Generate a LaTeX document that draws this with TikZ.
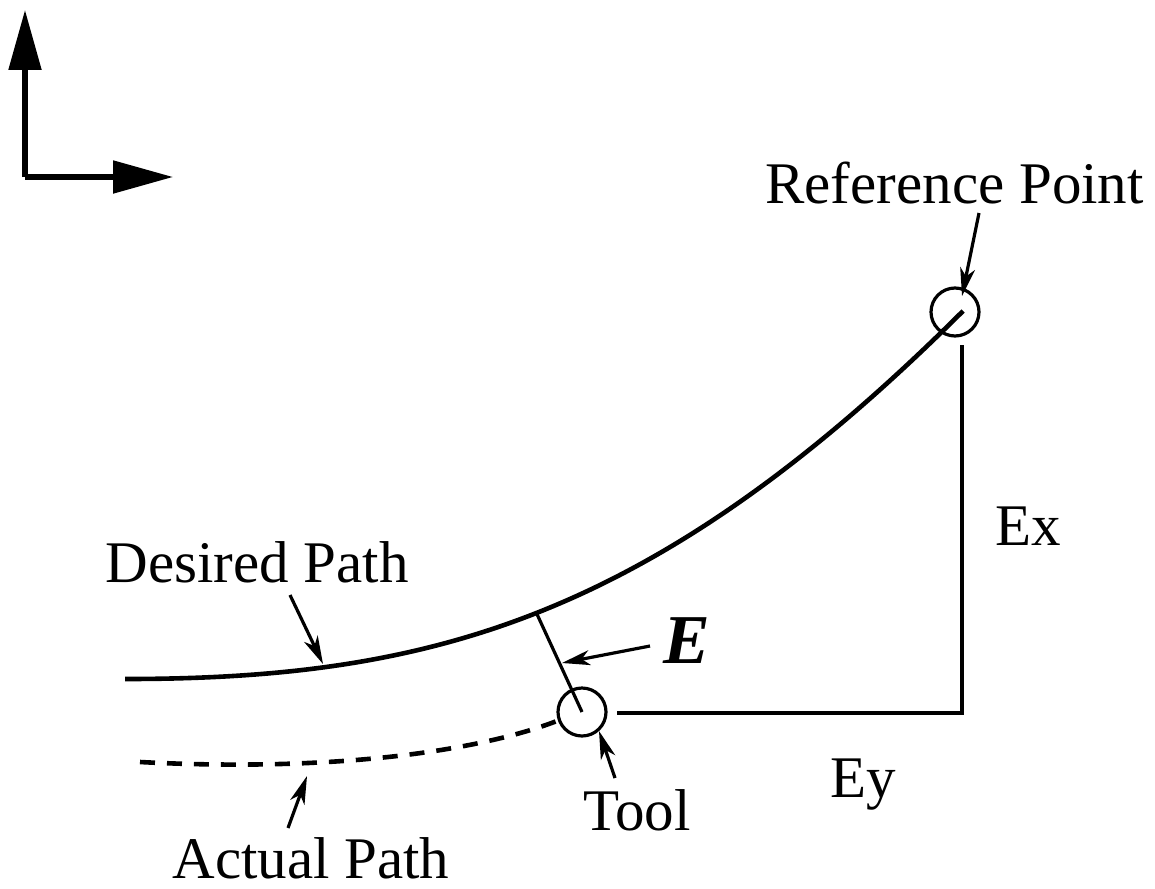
\documentclass[tikz,border=0pt]{standalone}
\usepackage{fontspec}
\setmainfont{Liberation Serif}
\usetikzlibrary{arrows.meta}
\begin{document}
\begin{tikzpicture}[x=0.5pt,y=-0.5pt,
  lbl/.style={inner sep=0pt,anchor=base west,font=\fontsize{29.5}{32}\selectfont},
  axis/.style={line width=2.6pt,-{Triangle[length=30pt,width=16pt]}},
  pathline/.style={line width=2.3pt},
  thin/.style={line width=1.6pt},
  pointer/.style={line width=1.6pt,-{Stealth[length=14pt,width=7.5pt,inset=4pt]}},
  ring/.style={circle,draw,line width=1.6pt,minimum size=24pt,inner sep=0pt}]
\useasboundingbox (0,0) rectangle (1155,888);
% axes
\coordinate (O) at (25,177);
\coordinate (Ytip) at (25,10);
\coordinate (Xtip) at (173,177);
\draw[axis] (O) -- (Ytip);
\draw[axis] (O) -- (Xtip);
% circles
\node[ring] (ref) at (955,312) {};
\node[ring] (tool) at (582,712) {};
% desired path
\coordinate (dstart) at (125,679);
\coordinate (dend) at (963,311);
\draw[pathline] (dstart) .. controls (432,679) and (655,618) .. (dend);
% actual path
\coordinate (astart) at (140,762);
\coordinate (aend) at (562,719);
\draw[pathline,dash pattern=on 7.5pt off 6pt] (astart) .. controls (330,772) and (480,752) .. (aend);
% error line
\coordinate (efoot) at (536,612);
\draw[thin] (efoot) -- (tool.center);
% Ex / Ey
\coordinate (exTop) at (962,345);
\coordinate (corner) at (962,713);
\coordinate (eyLeft) at (617,713);
\draw[thin] (exTop) -- (corner) -- (eyLeft);
% labels
\node[lbl] (lref) at (765,203) {Reference Point};
\node[lbl] (ldes) at (105,582) {Desired Path};
\node[lbl] (lex) at (995,545) {Ex};
\node[lbl] (ley) at (830,797) {Ey};
\node[lbl] (ltool) at (583,830) {Tool};
\node[lbl] (lact) at (172,878) {Actual Path};
\node[lbl,font=\fontsize{35}{36}\selectfont\bfseries\itshape] (lE) at (663,663) {E};
% pointers
\coordinate (pr0) at (979,213); \coordinate (pr1) at (962,296);
\draw[pointer] (pr0) -- (pr1);
\coordinate (pd0) at (290,595); \coordinate (pd1) at (323,664);
\draw[pointer] (pd0) -- (pd1);
\coordinate (pe0) at (650,646); \coordinate (pe1) at (562,663);
\draw[pointer] (pe0) -- (pe1);
\coordinate (pt0) at (615,778); \coordinate (pt1) at (599,731);
\draw[pointer] (pt0) -- (pt1);
\coordinate (pa0) at (288,828); \coordinate (pa1) at (307,776);
\draw[pointer] (pa0) -- (pa1);
\end{tikzpicture}
\end{document}
